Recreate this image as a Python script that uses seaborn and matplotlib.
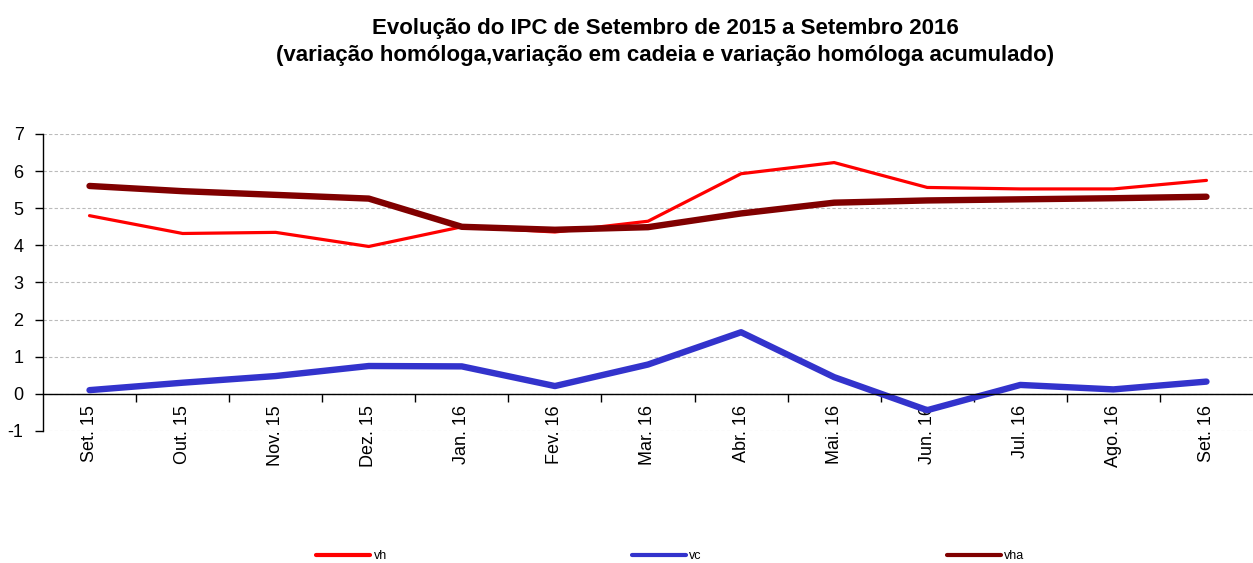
import pandas as pd
import numpy as np
import matplotlib
matplotlib.use('Agg')
import matplotlib.pyplot as plt
import seaborn as sns

# data
months = ['Set. 15', 'Out. 15', 'Nov. 15', 'Dez. 15', 'Jan. 16', 'Fev. 16', 'Mar. 16',
          'Abr. 16', 'Mai. 16', 'Jun. 16', 'Jul. 16', 'Ago. 16', 'Set. 16']
vh = [4.80, 4.32, 4.35, 3.97, 4.50, 4.36, 4.65, 5.93, 6.23, 5.56, 5.52, 5.52, 5.75]
vc = [0.10, 0.30, 0.48, 0.75, 0.74, 0.21, 0.79, 1.66, 0.45, -0.44, 0.24, 0.12, 0.33]
vha = [5.60, 5.46, 5.36, 5.26, 4.50, 4.42, 4.49, 4.86, 5.15, 5.21, 5.24, 5.27, 5.31]

series_names = ['vh', 'vc', 'vha']
colors = {'vh': '#FF0000', 'vc': '#3333CC', 'vha': '#800000'}
widths = {'vh': 2.3, 'vc': 4.6, 'vha': 4.6}


def build_frame():
    """ long form frame for seaborn """
    rows = []
    for name, vals in zip(series_names, [vh, vc, vha]):
        for i, v in enumerate(vals):
            rows.append({'pos': i, 'mes': months[i], 'serie': name, 'valor': v})
    return pd.DataFrame(rows)


def generate_plot(df):
    sns.set_style('white')
    plt.rcParams['font.family'] = ['Liberation Sans', 'DejaVu Sans']
    plt.rcParams['axes.unicode_minus'] = False
    plt.rcParams['text.color'] = 'black'
    plt.rcParams['xtick.color'] = 'black'
    plt.rcParams['ytick.color'] = 'black'

    fig = plt.figure(figsize=(12.53, 5.63), dpi=100)
    ax = fig.add_axes([0.0343, 0.2345, 0.9657, 0.5275])

    ax = sns.lineplot(data=df, x='pos', y='valor', hue='serie', palette=colors,
                      hue_order=series_names, ax=ax, legend=False,
                      solid_capstyle='round')
    for line, name in zip(ax.lines, series_names):
        line.set_linewidth(widths[name])

    ax.set_xlim(-0.5, len(months) - 0.5)
    ax.set_ylim(-1, 7)
    ax.set_yticks(range(-1, 8))
    ax.yaxis.grid(True, color='#BBBBBB', linestyle=(0, (3, 2)), linewidth=0.8)
    ax.xaxis.grid(False)

    # spines like the excel chart
    ax.spines['top'].set_visible(False)
    ax.spines['right'].set_visible(False)
    ax.spines['left'].set_color('black')
    ax.spines['left'].set_linewidth(1.0)
    ax.spines['bottom'].set_position(('data', 0))
    ax.spines['bottom'].set_color('black')
    ax.spines['bottom'].set_linewidth(1.0)

    ax.tick_params(axis='y', which='major', left=True, length=6, width=1,
                   labelsize=13, colors='black', pad=8)
    ax.set_xticks(range(len(months)))
    ax.set_xticklabels(months, rotation=90, fontsize=13, color='black')
    ax.tick_params(axis='x', which='major', length=0, pad=8)
    ax.set_xticks(np.arange(0.5, len(months) - 0.5, 1), minor=True)
    ax.tick_params(axis='x', which='minor', bottom=True, length=6, width=1,
                   direction='out', color='black')
    ax.set_xlabel('')
    ax.set_ylabel('')

    fig.text(0.531, 0.968,
             'Evolução do IPC de Setembro de 2015 a Setembro 2016\n'
             '(variação homóloga,variação em cadeia e variação homóloga acumulado)',
             ha='center', va='top', fontsize=16, fontweight='bold', linespacing=1.4,
             color='black')

    handles = [plt.Line2D([], [], color=colors[n], linewidth=3, solid_capstyle='round')
               for n in series_names]
    fig.legend(handles, series_names, loc='center', bbox_to_anchor=(0.535, 0.012),
               ncol=3, frameon=False, fontsize=9, handlelength=4.3, columnspacing=19.6,
               handletextpad=0.3)

    plt.savefig('out.png', dpi=100)


def main():
    df = build_frame()
    generate_plot(df)


if __name__ == '__main__':
    main()
